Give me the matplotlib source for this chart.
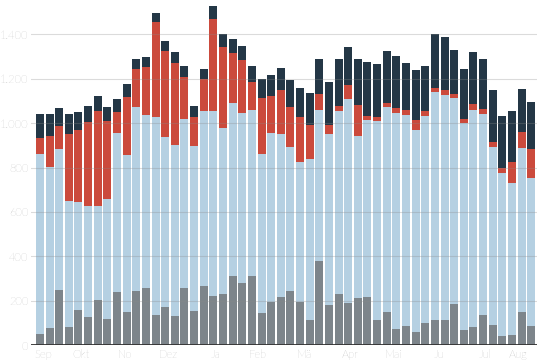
import numpy as np
import matplotlib.pyplot as plt

plt.rcParams['font.family'] = ['Lato', 'DejaVu Sans']

# Wochenwerte, gestapelt (grau, hellblau, rot, dunkel)
grau = [48, 78, 247, 83, 157, 128, 202, 118, 240, 148, 244, 256, 135, 171, 130,
        258, 153, 267, 220, 232, 312, 279, 309, 146, 195, 215, 244, 194, 113, 378,
        180, 230, 190, 210, 215, 113, 148, 74, 86, 59, 98, 113, 113, 185, 68,
        83, 135, 89, 41, 44, 148, 86]
hellblau = [812, 724, 635, 566, 489, 499, 425, 539, 717, 707, 827, 780, 891, 765, 770,
            760, 742, 789, 836, 746, 778, 765, 750, 717, 762, 738, 649, 631, 727, 683,
            773, 825, 918, 730, 797, 897, 926, 970, 949, 909, 934, 1026, 1015, 928, 932,
            978, 908, 804, 735, 687, 740, 667]
rot = [73, 140, 103, 302, 323, 376, 426, 354, 91, 262, 172, 215, 429, 390, 373,
       192, 132, 141, 415, 367, 225, 240, 126, 250, 166, 195, 180, 202, 150, 69,
       40, 22, 63, 143, 20, 16, 18, 26, 23, 45, 24, 18, 22, 18, 20,
       25, 19, 24, 22, 94, 72, 132]
dunkel = [109, 100, 81, 89, 83, 75, 70, 63, 60, 59, 48, 46, 43, 45, 47,
          47, 48, 45, 59, 57, 63, 64, 72, 87, 92, 102, 120, 133, 146, 157,
          192, 214, 173, 207, 243, 242, 233, 231, 214, 225, 201, 244, 236, 200, 222,
          233, 225, 233, 235, 228, 195, 212]

monate = ['Sep', 'Okt', 'No', 'Dez', 'Ja', 'Feb', 'Mä', 'Apr', 'Mai', 'Ju', 'Jul', 'Aug']
monat_pos = [0.3, 4.2, 8.8, 13.3, 18.3, 22.6, 27.4, 32.2, 36.7, 41.4, 46.2, 49.6]

farben = ['#7d858b', '#b5d0e2', '#cb4a3c', '#243746']

fig = plt.figure(figsize=(5.4, 3.6), dpi=100)
ax = fig.add_axes([31 / 540, 15 / 360, 506 / 540, 345 / 360])

x = np.arange(len(grau))
unten = np.zeros(len(grau))
for werte, farbe in zip([grau, hellblau, rot, dunkel], farben):
    ax.bar(x, werte, bottom=unten, width=0.83, color=farbe, linewidth=0, zorder=1)
    unten += np.array(werte)

ax.set_xlim(-0.93, 51.6)
ax.set_ylim(0, 1555)

ax.set_axisbelow(False)
ax.set_yticks(range(0, 1401, 200))
ax.set_yticklabels(['0', '200', '400', '600', '800', '1.000', '1.200', '1.400'])
ax.yaxis.grid(True, color='#8a8a8a', alpha=0.3, linewidth=0.8)
ax.axhline(0, color='#333333', linewidth=1.3, zorder=4)

ax.set_xticks(monat_pos)
ax.set_xticklabels(monate)
ax.tick_params(axis='both', length=0, labelsize=8, labelcolor='#a0a0a0')
ax.tick_params(axis='y', pad=2)
ax.tick_params(axis='x', pad=3)
for lab in ax.get_xticklabels() + ax.get_yticklabels():
    lab.set_fontweight('light')

for s in ax.spines.values():
    s.set_visible(False)

fig.savefig('out.png', dpi=100)
